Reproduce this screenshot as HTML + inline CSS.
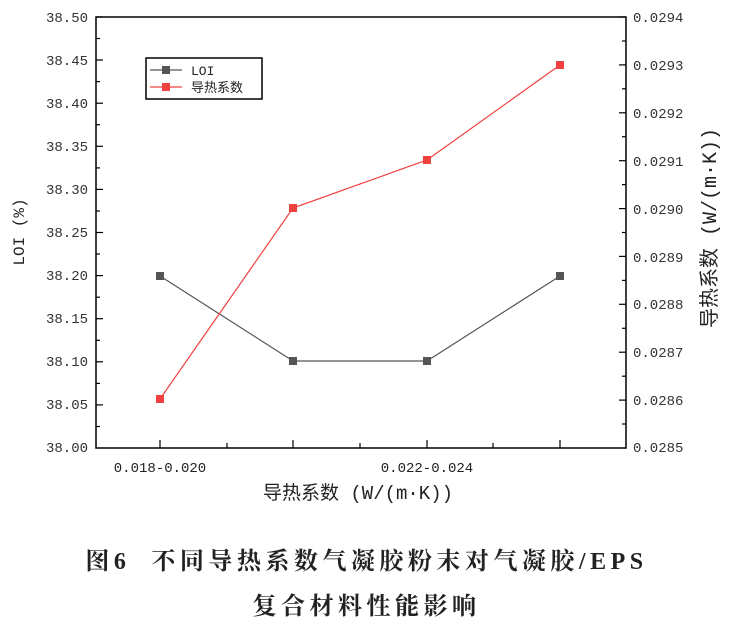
<!DOCTYPE html>
<html><head><meta charset="utf-8"><style>
body{margin:0;background:#fff;width:733px;height:621px;overflow:hidden}
svg text{font-family:"Liberation Mono","Noto Sans CJK SC",monospace;}
.cap{position:absolute;left:0;width:733px;text-align:center;font-family:"Liberation Serif","Noto Serif CJK SC",serif;font-weight:bold;font-size:24px;letter-spacing:4.5px;color:#222}
</style></head><body>
<svg width="733" height="621" style="position:absolute;left:0;top:0">
<g stroke="#000" stroke-width="1.5" fill="none">
<rect x="96" y="17" width="530" height="431"/>
</g>
<g stroke="#000" stroke-width="1.2">
<line x1="96" y1="17" x2="103" y2="17"/><line x1="96" y1="38.5" x2="100" y2="38.5"/>
<line x1="96" y1="60" x2="103" y2="60"/><line x1="96" y1="81.6" x2="100" y2="81.6"/>
<line x1="96" y1="103.2" x2="103" y2="103.2"/><line x1="96" y1="124.7" x2="100" y2="124.7"/>
<line x1="96" y1="146.3" x2="103" y2="146.3"/><line x1="96" y1="167.9" x2="100" y2="167.9"/>
<line x1="96" y1="189.4" x2="103" y2="189.4"/><line x1="96" y1="211" x2="100" y2="211"/>
<line x1="96" y1="232.5" x2="103" y2="232.5"/><line x1="96" y1="254" x2="100" y2="254"/>
<line x1="96" y1="275.6" x2="103" y2="275.6"/><line x1="96" y1="297.2" x2="100" y2="297.2"/>
<line x1="96" y1="318.7" x2="103" y2="318.7"/><line x1="96" y1="340.3" x2="100" y2="340.3"/>
<line x1="96" y1="361.8" x2="103" y2="361.8"/><line x1="96" y1="383.4" x2="100" y2="383.4"/>
<line x1="96" y1="404.9" x2="103" y2="404.9"/><line x1="96" y1="426.5" x2="100" y2="426.5"/>
<line x1="626" y1="17" x2="619" y2="17"/><line x1="626" y1="41" x2="622" y2="41"/>
<line x1="626" y1="64.9" x2="619" y2="64.9"/><line x1="626" y1="88.8" x2="622" y2="88.8"/>
<line x1="626" y1="112.8" x2="619" y2="112.8"/><line x1="626" y1="136.7" x2="622" y2="136.7"/>
<line x1="626" y1="160.7" x2="619" y2="160.7"/><line x1="626" y1="184.6" x2="622" y2="184.6"/>
<line x1="626" y1="208.6" x2="619" y2="208.6"/><line x1="626" y1="232.5" x2="622" y2="232.5"/>
<line x1="626" y1="256.4" x2="619" y2="256.4"/><line x1="626" y1="280.4" x2="622" y2="280.4"/>
<line x1="626" y1="304.3" x2="619" y2="304.3"/><line x1="626" y1="328.3" x2="622" y2="328.3"/>
<line x1="626" y1="352.2" x2="619" y2="352.2"/><line x1="626" y1="376.2" x2="622" y2="376.2"/>
<line x1="626" y1="400.1" x2="619" y2="400.1"/><line x1="626" y1="424" x2="622" y2="424"/>
<line x1="160" y1="448" x2="160" y2="440"/><line x1="227" y1="448" x2="227" y2="443"/>
<line x1="293" y1="448" x2="293" y2="440"/><line x1="360" y1="448" x2="360" y2="443"/>
<line x1="427" y1="448" x2="427" y2="440"/><line x1="493" y1="448" x2="493" y2="443"/>
<line x1="560" y1="448" x2="560" y2="440"/>
</g>
<g font-size="14" fill="#333" text-anchor="end">
<text x="88" y="22">38.50</text><text x="88" y="65">38.45</text><text x="88" y="108">38.40</text>
<text x="88" y="151">38.35</text><text x="88" y="194">38.30</text><text x="88" y="237">38.25</text>
<text x="88" y="280">38.20</text><text x="88" y="323">38.15</text><text x="88" y="366">38.10</text>
<text x="88" y="409">38.05</text><text x="88" y="452">38.00</text>
</g>
<g font-size="14" fill="#333">
<text x="633" y="22">0.0294</text><text x="633" y="70">0.0293</text><text x="633" y="118">0.0292</text>
<text x="633" y="166">0.0291</text><text x="633" y="214">0.0290</text><text x="633" y="262">0.0289</text>
<text x="633" y="309">0.0288</text><text x="633" y="357">0.0287</text><text x="633" y="405">0.0286</text>
<text x="633" y="452">0.0285</text>
</g>
<g font-size="14" fill="#222" text-anchor="middle">
<text x="160" y="472">0.018-0.020</text><text x="427" y="472">0.022-0.024</text>
</g>
<text x="358" y="499" font-size="19" fill="#222" text-anchor="middle">导热系数 (W/(m·K))</text>
<text transform="translate(24,232) rotate(-90)" font-size="16" fill="#222" text-anchor="middle">LOI (%)</text>
<text transform="translate(716,228) rotate(-90)" font-size="20" fill="#222" text-anchor="middle">导热系数 (W/(m·K))</text>
<polyline points="160,276 293,361 427,361 560,276" fill="none" stroke="#555" stroke-width="1.2"/>
<polyline points="160,399 293,208 427,160 560,65" fill="none" stroke="#f04040" stroke-width="1.2"/>
<g fill="#555"><rect x="156" y="272" width="8" height="8"/><rect x="289" y="357" width="8" height="8"/><rect x="423" y="357" width="8" height="8"/><rect x="556" y="272" width="8" height="8"/></g>
<g fill="#f04040"><rect x="156" y="395" width="8" height="8"/><rect x="289" y="204" width="8" height="8"/><rect x="423" y="156" width="8" height="8"/><rect x="556" y="61" width="8" height="8"/></g>
<rect x="146" y="58" width="116" height="41" fill="#fff" stroke="#000" stroke-width="1.5"/>
<line x1="150" y1="70" x2="182" y2="70" stroke="#555" stroke-width="1.2"/><rect x="162" y="66" width="8" height="8" fill="#555"/>
<line x1="150" y1="87" x2="182" y2="87" stroke="#f04040" stroke-width="1.2"/><rect x="162" y="83" width="8" height="8" fill="#f04040"/>
<text x="191" y="75" font-size="13" fill="#222">LOI</text>
<text x="191" y="92" font-size="13" fill="#222">导热系数</text>
</svg>
<div class="cap" style="top:541px">图6&nbsp;&nbsp;不同导热系数气凝胶粉末对气凝胶/EPS</div>
<div class="cap" style="top:586px">复合材料性能影响</div>
</body></html>
